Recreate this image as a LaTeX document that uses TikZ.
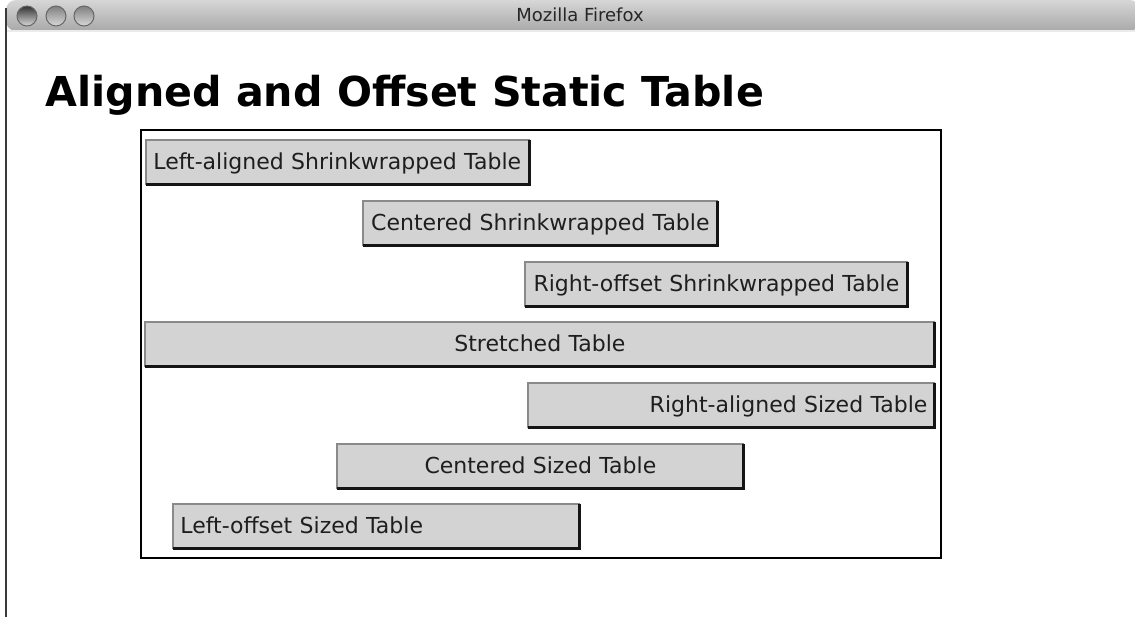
\documentclass[tikz,border=0pt]{standalone}
\usepackage{fontspec}
\setmainfont{DejaVu Sans}
\usetikzlibrary{positioning}
\definecolor{wbBarTop}{HTML}{D6D6D6}
\definecolor{wbBarBot}{HTML}{A9A9A9}
\definecolor{wbEdge}{HTML}{3A3A3A}
\definecolor{tbFill}{HTML}{D3D3D3}
\definecolor{tbLight}{HTML}{8A8A8A}
\definecolor{tbDark}{HTML}{151515}
\definecolor{tbText}{HTML}{1E1E1E}
\tikzset{
  tbl/.style={
    fill=tbFill, inner ysep=0pt, inner xsep=7*\pw, minimum height=44*\pw,
    anchor=north west, font=\fontsize{11pt}{13pt}\selectfont, text=tbText,
    text height=0.73em, text depth=0pt
  },
  wide/.style 2 args={minimum width=#1*\pw, text width=(#1-14)*\pw, align=#2},
  bevellight/.style={line width=1pt, tbLight},
  beveldark/.style={line width=1.5pt, tbDark},
  outer/.style={line width=1pt, black},
  winbtn/.style={draw=black!60, line width=0.5pt, top color=black!55, bottom color=white!85!black}
}
\newcommand\outset[1]{%
  \draw[bevellight] (#1.south west) |- (#1.north east);
  \draw[beveldark] (#1.south west) -| (#1.north east);}

\begin{document}
\begin{tikzpicture}[x=0.5pt, y=-0.5pt]
  \def\pw{0.5pt}
  \useasboundingbox[fill=white] (0,0) rectangle (1135,617);
  % window chrome
  \shade[top color=wbBarTop, bottom color=wbBarBot, rounded corners=5pt]
    (6,31) -- (6,0) -- (1140,0) -- (1140,31) -- cycle;
  \draw[white!92!black, line width=0.6pt] (6,31) -- (1135,31);
  \draw[wbEdge, line width=1pt] (6,8) -- (6,617);
  \foreach \bx/\tone in {27/80, 56/50, 84/50}
    \shade[winbtn, top color=black!\tone] (\bx,16) circle (10);
  \node[font=\fontsize{9pt}{10pt}\selectfont, text=black!85] (wintitle) at (580,15) {Mozilla Firefox};

  % page
  \node[anchor=base west, inner sep=0pt, font=\fontsize{20.6pt}{24pt}\selectfont\bfseries]
    (heading) at (45,106) {Aligned and Offset Static Table};
  \draw[outer] (141,130) rectangle (941,558);

  \node[tbl, wide={383}{left}]   (lshrink)  at (146,140) {Left-aligned Shrinkwrapped Table};
  \node[tbl, wide={354}{center}] (cshrink)  at (363,201) {Centered Shrinkwrapped Table};
  \node[tbl, wide={382}{center}] (roshrink) at (525,262) {Right-offset Shrinkwrapped Table};
  \node[tbl, wide={789}{center}] (stretch)  at (145,322) {Stretched Table};
  \node[tbl, wide={406}{right}]  (rsized)   at (528,383) {Right-aligned Sized Table};
  \node[tbl, wide={406}{center}] (csized)   at (337,444) {Centered Sized Table};
  \node[tbl, wide={406}{left}]   (losized)  at (173,504) {Left-offset Sized Table};
  \foreach \t in {lshrink, cshrink, roshrink, stretch, rsized, csized, losized}
    {\outset{\t}}
\end{tikzpicture}
\end{document}
